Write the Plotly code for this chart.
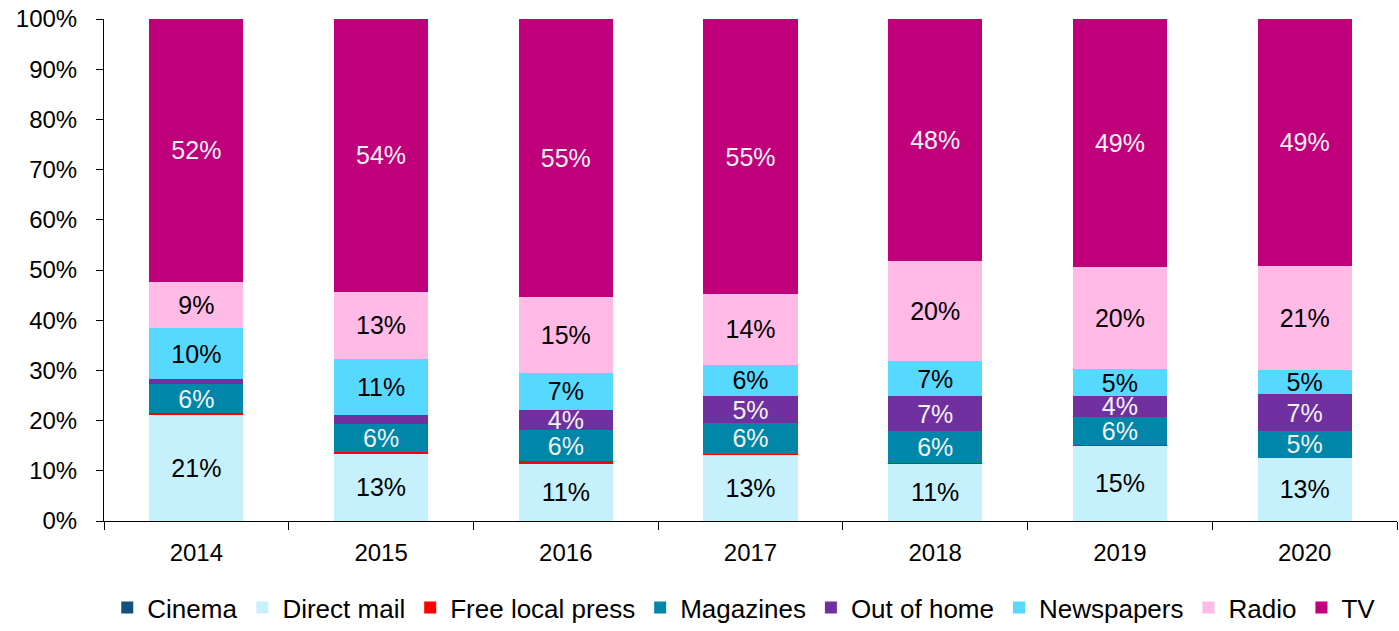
import plotly.graph_objects as go

years = ["2014", "2015", "2016", "2017", "2018", "2019", "2020"]
cinema = [0, 0, 0, 0, 0, 0, 0]
direct_mail = [21.2, 13.4, 11.4, 13.3, 11.4, 15.0, 12.6]
free_local_press = [0.4, 0.3, 0.5, 0.1, 0.1, 0.1, 0.0]
magazines = [5.6, 5.6, 6.2, 6.1, 6.4, 5.7, 5.3]
out_of_home = [1.0, 1.8, 4.1, 5.4, 7.0, 4.1, 7.4]
newspapers = [10.3, 11.2, 7.2, 6.2, 6.9, 5.3, 4.8]
radio = [9.2, 13.4, 15.2, 14.1, 19.9, 20.4, 20.7]
tv = [52.3, 54.3, 55.4, 54.8, 48.3, 49.4, 49.2]

series = [
    ("Cinema", cinema, "#12507F", "#F2F2F2"),
    ("Direct mail", direct_mail, "#C7F0FD", "#000000"),
    ("Free local press", free_local_press, "#FF0000", "#000000"),
    ("Magazines", magazines, "#0086A8", "#F2F2F2"),
    ("Out of home", out_of_home, "#7030A0", "#F2F2F2"),
    ("Newspapers", newspapers, "#57D9FF", "#000000"),
    ("Radio", radio, "#FFBBE6", "#000000"),
    ("TV", tv, "#C0007A", "#F2F2F2"),
]

FONT = "Liberation Sans, Arial, sans-serif"

fig = go.Figure()
for name, vals, color, tcolor in series:
    labels = [f"{round(v)}%" if v >= 3 else "" for v in vals]
    fig.add_trace(go.Bar(
        name=name,
        x=years,
        y=vals,
        marker=dict(color=color, line=dict(width=0)),
        text=labels,
        texttemplate="%{text}",
        textposition="inside",
        insidetextanchor="middle",
        textangle=0,
        textfont=dict(family=FONT, size=25, color=tcolor),
        hoverinfo="name+y",
    ))

fig.update_layout(
    barmode="stack",
    bargap=0.49,
    width=1399,
    height=631,
    margin=dict(l=104, r=2, t=19, b=110, autoexpand=False),
    paper_bgcolor="white",
    plot_bgcolor="white",
    font=dict(family=FONT, size=24, color="#000000"),
    uniformtext=dict(minsize=25, mode="show"),
    showlegend=True,
    legend=dict(
        orientation="h",
        traceorder="normal",
        x=0.532,
        xref="container",
        xanchor="center",
        yref="container",
        y=-0.025,
        yanchor="bottom",
        font=dict(family=FONT, size=26, color="#000000"),
        itemwidth=30,
        tracegroupgap=0,
    ),
    xaxis=dict(
        type="category",
        showline=True,
        linecolor="#000000",
        linewidth=1,
        ticks="outside",
        tickson="boundaries",
        ticklen=8,
        tickcolor="#000000",
        showgrid=False,
        ticklabelstandoff=10,
        tickfont=dict(family=FONT, size=24, color="#000000"),
    ),
    yaxis=dict(
        range=[0, 100],
        tickvals=[0, 10, 20, 30, 40, 50, 60, 70, 80, 90, 100],
        ticktext=["0%", "10%", "20%", "30%", "40%", "50%", "60%", "70%", "80%", "90%", "100%"],
        showline=True,
        linecolor="#000000",
        linewidth=1,
        ticks="outside",
        ticklen=7,
        tickcolor="#000000",
        showgrid=False,
        zeroline=False,
        ticklabelstandoff=14,
        tickfont=dict(family=FONT, size=24, color="#000000"),
    ),
)

fig.write_html("out.html")
